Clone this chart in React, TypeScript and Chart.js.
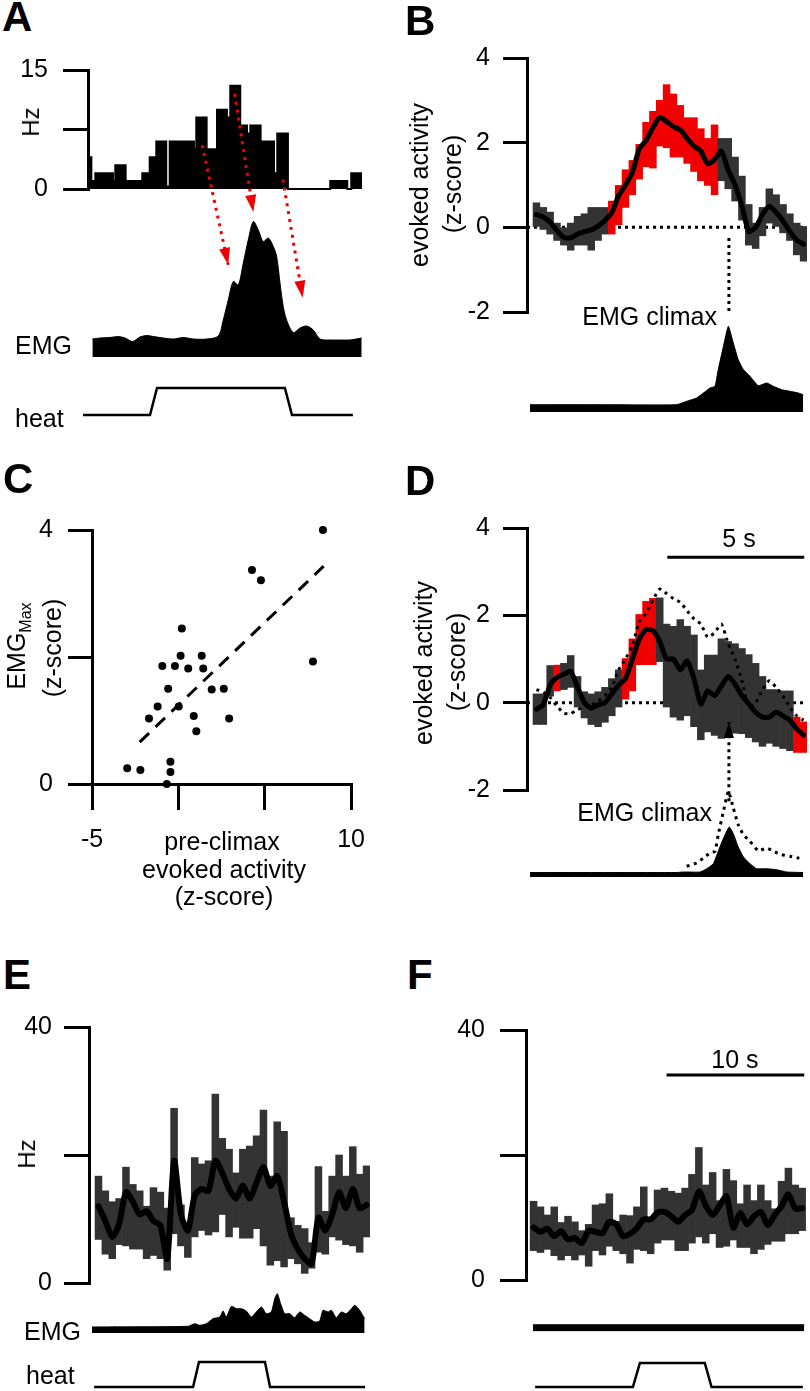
import React, { useEffect, useRef } from "react";
import { Chart, registerables } from "chart.js";

Chart.register(...registerables);

const FONT = "'Liberation Sans', Arial, Helvetica, sans-serif";
Chart.defaults.font.family = FONT;

const RED = "#f00000";
const BAND = "#333333";

// ================= Panel A =================
const histEdges = [0, 0.33, 0.72, 2.46, 2.69, 3.71, 5.35, 6.08, 6.73, 7.71, 8.05, 10.44, 10.67, 11.69, 12.71, 13.69, 14.02, 15.0, 15.67, 15.99, 17.01, 18.33, 18.65, 19.7, 23.87, 25.55, 25.94, 27.0];
const histRates = [4, 1, 2, 1, 3, 1, 2, 4, 6, 0.3, 6, 5, 9, 5, 10, 9, 13, 8, 7, 8, 6, 2, 7, 0, 1, 0, 2];
const histTicks = [0, 7.5, 15];
const histTickLabels = ["0", "", "15"];

const emgATime = [0.43, 1.18, 2.17, 2.99, 3.65, 4.4, 5.12, 5.78, 6.44, 7.42, 8.41, 9.39, 10.38, 11.69, 12.84, 13.33, 13.82, 14.32, 14.81, 15.3, 15.79, 16.29, 16.78, 17.27, 17.76, 18.26, 18.59, 18.92, 19.24, 19.57, 20.23, 20.89, 21.54, 22.2, 22.86, 23.84, 24.83, 25.81, 26.97];
const emgAValue = [18, 19, 19.5, 20.5, 19, 15.5, 20, 21.5, 20.5, 19, 18, 19.5, 18, 18, 21, 37, 57, 75.5, 72, 94, 117, 135.5, 127, 115.5, 119, 110.5, 100.5, 74, 50.5, 37, 24.5, 29, 31, 27, 18, 17, 17, 17, 19];

const heatATime = [-0.49, 6.11, 6.8, 19.4, 20.1, 26.1];
const heatAValue = [0, 0, 1, 1, 0, 0];

const arrowStartT = [11.25, 14.45, 19.21];
const arrowStartHz = [5.52, 12.0, 1.19];
const arrowEndT = [13.82, 16.29, 21.15];
const arrowEndHz = [-9.56, -2.89, -13.7];

// ================= Panels B & D (time in s, 0.25 s bins) =================
const zBins = [0.125, 0.375, 0.625, 0.875, 1.125, 1.375, 1.625, 1.875, 2.125, 2.375, 2.625, 2.875, 3.125, 3.375, 3.625, 3.875, 4.125, 4.375, 4.625, 4.875, 5.125, 5.375, 5.625, 5.875, 6.125, 6.375, 6.625, 6.875, 7.125, 7.375, 7.625, 7.875, 8.125, 8.375, 8.625, 8.875, 9.125, 9.375, 9.625, 9.875];
const zTicks = [-2, 0, 2, 4];
const zTickLabels = ["-2", "0", "2", "4"];
const climaxT = 7.15;

const bMean = [0.3, 0.24, 0.12, -0.08, -0.24, -0.25, -0.16, -0.1, -0.06, 0.03, 0.16, 0.35, 0.75, 1.0, 1.3, 1.85, 2.05, 2.35, 2.6, 2.5, 2.38, 2.3, 2.1, 1.92, 1.8, 1.5, 1.6, 1.8, 1.35, 1.0, 0.5, -0.1, 0.0, 0.3, 0.5, 0.35, 0.15, -0.1, -0.3, -0.4];
const bLow = [0.02, -0.05, -0.16, -0.31, -0.42, -0.54, -0.42, -0.42, -0.54, -0.31, -0.16, -0.16, 0.06, 0.47, 0.77, 1.14, 1.43, 1.4, 1.92, 1.88, 1.66, 1.66, 1.51, 1.32, 1.1, 0.99, 0.77, 1.1, 0.91, 0.62, 0.17, -0.42, -0.5, -0.2, 0.1, 0.02, -0.13, -0.31, -0.65, -0.8];
const bHigh = [0.58, 0.47, 0.36, 0.1, -0.01, 0.1, 0.26, 0.32, 0.47, 0.47, 0.47, 0.62, 0.99, 1.36, 1.58, 1.96, 2.48, 2.74, 3.0, 3.37, 3.15, 2.88, 2.59, 2.59, 2.33, 2.1, 2.42, 2.1, 2.1, 1.66, 1.21, 0.54, 0.1, 0.47, 0.91, 0.77, 0.54, 0.32, 0.1, 0.02];
const bSignificant = [11, 12, 13, 14, 15, 16, 17, 18, 19, 20, 21, 22, 23, 24, 25, 26];
const climaxLineZ = [-0.25, -2.03];

const bEmgTime = [-0.11, 2.45, 5.24, 5.61, 5.97, 6.22, 6.46, 6.64, 6.76, 6.95, 7.13, 7.31, 7.49, 7.68, 7.92, 8.22, 8.53, 8.77, 9.08, 9.38, 9.68, 9.86];
const bEmgValue = [7.3, 7.3, 7.3, 10.7, 14, 19, 24, 25.7, 42.3, 65.7, 85.7, 69, 52.3, 42.3, 35.7, 26.3, 29, 25.7, 22.3, 20.7, 19, 17.3];

const dMean = [-0.15, -0.05, 0.4, 0.58, 0.65, 0.72, 0.35, 0.0, -0.12, -0.05, 0.0, 0.2, 0.4, 0.55, 1.0, 1.45, 1.68, 1.65, 1.4, 1.0, 1.0, 0.75, 0.95, 0.55, -0.03, 0.27, 0.16, 0.38, 0.6, 0.42, 0.16, -0.03, -0.22, -0.33, -0.33, -0.22, -0.3, -0.4, -0.6, -0.74];
const dLow = [-0.5, -0.5, 0.15, 0.27, 0.3, 0.35, -0.1, -0.35, -0.5, -0.55, -0.45, -0.3, -0.1, 0.08, 0.27, 0.87, 0.87, 0.87, 0.94, -0.1, -0.33, -0.4, -0.3, -0.55, -0.85, -0.67, -0.75, -0.82, -0.75, -0.7, -0.71, -0.8, -0.9, -1.0, -0.93, -1.0, -1.05, -1.1, -1.14, -1.14];
const dHigh = [0.2, 0.2, 0.85, 0.86, 0.9, 1.08, 0.6, 0.25, 0.2, 0.25, 0.35, 0.55, 0.75, 1.01, 1.46, 2.02, 2.32, 2.39, 2.4, 1.8, 1.75, 1.9, 1.75, 1.55, 0.75, 1.09, 1.09, 1.46, 1.4, 1.35, 1.24, 1.1, 0.9, 0.6, 0.3, 0.3, 0.27, 0.27, -0.33, -0.44];
const dSignificant = [3, 13, 14, 15, 16, 17, 38, 39];
const dArrowZ = [-2.26, -0.44];
const dScaleBarT = [4.9, 9.9];
const dScaleBarZ = 3.33;

const dEmgTime = [-0.11, 5.24, 5.49, 6.09, 6.34, 6.58, 6.82, 7.0, 7.16, 7.31, 7.49, 7.68, 7.92, 8.16, 8.53, 8.89, 9.26, 9.86];
const dEmgValue = [4.5, 4.5, 5, 5, 8.3, 13.3, 30, 41.7, 50, 43.3, 30, 20, 13.3, 8.3, 8.3, 7.3, 5, 4.5];

// ================= Panel C =================
const cPreClimax = [8.37, 4.26, 4.78, 0.2, 0.13, 1.35, -0.93, -0.2, 0.57, 1.44, -0.59, 1.93, 2.63, -1.2, 0.02, -1.7, 0.89, 2.94, 1.04, 7.79, -2.96, -2.2, -0.46, -0.46, -0.67];
const cEmgMax = [4.0, 3.37, 3.21, 2.45, 2.02, 2.02, 1.86, 1.86, 1.82, 1.82, 1.5, 1.49, 1.5, 1.22, 1.22, 1.03, 1.07, 1.03, 0.83, 1.93, 0.25, 0.22, 0.35, 0.19, 0.0];
const cFitX = [-2.24, 8.41];
const cFitY = [0.66, 3.43];
const cXTicks = [-5, 0, 5, 10];
const cXTickLabels = ["-5", "", "", "10"];
const cYTicks = [0, 2, 4];
const cYTickLabels = ["0", "", "4"];

// ================= Panels E & F (time in s, 0.5 s bins) =================
const hzBins = [0.25, 0.75, 1.25, 1.75, 2.25, 2.75, 3.25, 3.75, 4.25, 4.75, 5.25, 5.75, 6.25, 6.75, 7.25, 7.75, 8.25, 8.75, 9.25, 9.75, 10.25, 10.75, 11.25, 11.75, 12.25, 12.75, 13.25, 13.75, 14.25, 14.75, 15.25, 15.75, 16.25, 16.75, 17.25, 17.75, 18.25, 18.75, 19.25, 19.75];
const hzTicks = [0, 20, 40];
const hzTickLabels = ["0", "", "40"];

const eMean = [12.0, 9.7, 7.2, 9.2, 14.2, 12.7, 10.7, 11.2, 9.7, 9.0, 3.8, 19.1, 10.7, 8.2, 13.7, 14.7, 14.4, 19.1, 17.2, 14.7, 13.2, 15.2, 13.2, 15.7, 18.1, 15.2, 16.7, 12.7, 7.7, 5.3, 3.8, 3.0, 10.2, 8.2, 10.7, 14.2, 11.7, 14.7, 11.7, 12.2];
const eLow = [6.8, 4.5, 3.8, 6.0, 5.8, 5.3, 5.3, 3.8, 4.3, 3.8, 2.0, 7.7, 5.8, 4.0, 7.2, 8.2, 7.5, 8.0, 10.7, 7.2, 8.7, 7.0, 7.0, 8.5, 5.8, 2.8, 3.5, 2.5, 3.8, 3.0, 1.5, 2.3, 4.8, 4.5, 7.2, 6.7, 6.0, 5.8, 4.8, 7.2];
const eHigh = [16.7, 14.4, 12.7, 13.2, 18.1, 15.4, 14.4, 12.0, 14.9, 14.2, 11.7, 27.3, 12.2, 9.0, 19.6, 18.6, 19.1, 29.5, 22.6, 20.9, 17.2, 20.9, 21.4, 23.0, 27.0, 16.7, 25.2, 23.7, 10.2, 9.0, 8.5, 6.3, 18.2, 11.2, 16.7, 20.0, 16.7, 21.3, 17.0, 18.3];

const eEmgTime = [-0.22, 6.76, 7.25, 7.61, 8.1, 8.58, 9.07, 9.31, 9.55, 9.92, 10.28, 10.64, 11.0, 11.37, 11.73, 12.1, 12.46, 12.82, 13.07, 13.26, 13.5, 13.79, 14.16, 14.52, 14.89, 15.25, 15.61, 15.98, 16.34, 16.58, 16.95, 17.19, 17.55, 17.91, 18.28, 18.65, 18.89, 19.25, 19.61];
const eEmgValue = [6, 6.7, 9.3, 7.7, 9.3, 14.3, 16, 22, 16, 26.7, 24.3, 24.3, 22, 16, 21, 26, 19.3, 21, 34.3, 39.3, 29.3, 19.3, 19.3, 15.3, 21, 17.7, 14.3, 11, 12, 22.7, 21, 22.7, 15.3, 21, 19.3, 24.3, 27.7, 22.7, 14.3];
const heatETime = [-0.07, 7.13, 7.56, 12.36, 12.73, 19.64];
const heatEValue = [0, 0, 1, 1, 0, 0];

const fMean = [8.4, 7.7, 8.2, 7.0, 7.8, 6.5, 6.7, 5.9, 7.9, 7.7, 7.5, 9.3, 8.9, 7.0, 7.4, 8.3, 9.7, 9.7, 10.8, 10.9, 10.2, 9.3, 10.4, 11.2, 14.2, 11.9, 10.4, 11.9, 13.4, 8.4, 10.7, 8.9, 10.2, 10.9, 8.8, 10.4, 11.8, 13.7, 11.4, 11.5];
const fHigh = [12.6, 11.7, 10.4, 11.7, 9.2, 10.2, 9.3, 7.9, 8.9, 12.0, 12.2, 13.8, 9.4, 10.4, 10.3, 11.7, 14.9, 9.8, 14.4, 14.7, 14.2, 13.9, 14.7, 16.9, 21.2, 15.2, 17.2, 12.7, 17.7, 15.9, 12.2, 15.2, 12.7, 15.2, 12.7, 11.4, 15.8, 17.9, 15.2, 14.7];
const fLow = [4.7, 4.4, 4.9, 3.9, 3.2, 3.9, 3.2, 4.0, 2.2, 4.7, 4.0, 5.4, 4.7, 4.2, 2.7, 4.9, 4.7, 4.2, 5.9, 6.4, 6.4, 4.7, 4.7, 5.9, 6.9, 5.9, 7.4, 5.2, 5.4, 6.4, 5.2, 5.2, 4.2, 4.9, 5.7, 6.2, 6.2, 7.4, 7.4, 7.9];
const fEmgTime = [0.2, 19.9];
const fEmgValue = [6.7, 6.7];
const heatFTime = [0.36, 7.46, 7.97, 12.68, 13.17, 19.8];
const heatFValue = [0, 0, 1, 1, 0, 0];
const fScaleBarT = [9.9, 19.9];
const fScaleBarHz = 32.8;

// ================= helpers =================
type Box = { x: number; y: number; w: number; h: number };
type Area = { x0: number; y0: number; x1: number; y1: number };

const pts = (xs: number[], ys: number[]) => xs.map((x, i) => ({ x, y: ys[i] }));

function layoutPadding(box: Box, area: Area, yW = 0, xH = 0) {
  return {
    left: area.x0 - box.x - yW,
    top: area.y0 - box.y,
    right: box.x + box.w - area.x1,
    bottom: box.y + box.h - area.y1 - xH,
  };
}

function hiddenAxis(min: number, max: number) {
  return {
    type: "linear",
    display: false,
    min,
    max,
    offset: false,
    grid: { offset: false },
    afterBuildTicks: (s: any) => {
      s.ticks = [{ value: min }, { value: max }];
    },
  };
}

function tickAxis(position: "left" | "bottom", min: number, max: number, vals: number[], labels: string[], size: number, tickLen: number, pad: number) {
  const horizontal = position === "bottom";
  return {
    type: "linear",
    position,
    min,
    max,
    offset: false,
    afterBuildTicks: (s: any) => {
      s.ticks = vals.map((v) => ({ value: v }));
    },
    afterFit: (s: any) => {
      if (horizontal) s.height = size;
      else s.width = size;
    },
    ticks: {
      autoSkip: false,
      maxRotation: 0,
      minRotation: 0,
      padding: pad,
      color: "#000",
      font: { family: FONT, size: 25 },
      callback: (v: any) => {
        const i = vals.indexOf(Number(v));
        return i >= 0 ? labels[i] : "";
      },
    },
    grid: { drawOnChartArea: false, drawTicks: true, tickLength: tickLen, tickWidth: 3, tickColor: "#000", color: "#000", lineWidth: 3, offset: false },
    border: { display: true, color: "#000", width: 3 },
  };
}

function makeOptions(box: Box, area: Area, scales: any, yW = 0, xH = 0) {
  return {
    responsive: false,
    maintainAspectRatio: false,
    animation: false,
    devicePixelRatio: 1,
    events: [],
    layout: { autoPadding: false, padding: layoutPadding(box, area, yW, xH) },
    plugins: { legend: { display: false }, tooltip: { enabled: false }, title: { display: false } },
    elements: { point: { radius: 0, hoverRadius: 0 } },
    scales,
  };
}

const lineDS = (data: any[], extra: any = {}) => ({
  type: "line",
  data,
  borderColor: "#000",
  borderWidth: 3,
  pointRadius: 0,
  fill: false,
  clip: false,
  tension: 0,
  ...extra,
});

const bandDS = (bins: number[], low: number[], high: number[], sig: number[], order = 2) => ({
  type: "bar",
  data: bins.map((t, i) => ({ x: t, y: [low[i], high[i]] })),
  backgroundColor: bins.map((_, i) => (sig.includes(i) ? RED : BAND)),
  borderWidth: 0,
  barPercentage: 1,
  categoryPercentage: 1,
  grouped: false,
  order,
});

const arrowPlugin = {
  id: "arrowHeads",
  afterDatasetsDraw(chart: any) {
    const ctx = chart.ctx;
    chart.data.datasets.forEach((ds: any, i: number) => {
      if (!ds.arrowHead) return;
      const meta = chart.getDatasetMeta(i);
      const p = meta.data;
      if (!p || p.length < 2) return;
      const a = p[p.length - 2];
      const b = p[p.length - 1];
      const ang = Math.atan2(b.y - a.y, b.x - a.x);
      const { length, halfWidth, color } = ds.arrowHead;
      ctx.save();
      ctx.translate(b.x, b.y);
      ctx.rotate(ang);
      ctx.beginPath();
      ctx.moveTo(0, 0);
      ctx.lineTo(-length, -halfWidth);
      ctx.lineTo(-length, halfWidth);
      ctx.closePath();
      ctx.fillStyle = color;
      ctx.fill();
      ctx.restore();
    });
  },
};

type Spec = { box: Box; build: () => any };

function stepPoints(edges: number[], rates: number[]) {
  const out = rates.map((r, i) => ({ x: edges[i], y: r }));
  out.push({ x: edges[edges.length - 1], y: rates[rates.length - 1] });
  return out;
}

// ================= chart specs =================
const specs: Spec[] = [];

// ---- A histogram (+ red arrows)
{
  const box = { x: 0, y: 40, w: 380, h: 290 };
  const area = { x0: 88, y0: 54, x1: 362, y1: 189 };
  specs.push({
    box,
    build: () => ({
      type: "line",
      data: {
        datasets: [
          ...arrowStartT.map((_, k) =>
            lineDS(
              [
                { x: arrowStartT[k], y: arrowStartHz[k] },
                { x: arrowEndT[k], y: arrowEndHz[k] },
              ],
              { borderColor: RED, borderWidth: 3, borderDash: [3, 5], order: 0, arrowHead: { length: 17, halfWidth: 5.5, color: RED } }
            )
          ),
          lineDS(stepPoints(histEdges, histRates), { stepped: true, fill: "origin", backgroundColor: "#000", borderWidth: 2, order: 1 }),
        ],
      },
      options: makeOptions(box, area, { x: hiddenAxis(0, 27), y: tickAxis("left", 0, 15, histTicks, histTickLabels, 88, 25, 15) }, 88),
      plugins: [arrowPlugin],
    }),
  });
}
// ---- A EMG
{
  const box = { x: 0, y: 200, w: 380, h: 170 };
  const area = { x0: 88, y0: 212, x1: 362, y1: 357 };
  specs.push({
    box,
    build: () => ({
      type: "line",
      data: { datasets: [lineDS(pts(emgATime, emgAValue), { fill: "origin", backgroundColor: "#000", borderWidth: 1, tension: 0.3 })] },
      options: makeOptions(box, area, { x: hiddenAxis(0, 27), y: hiddenAxis(0, 145) }),
    }),
  });
}
// ---- A heat
{
  const box = { x: 0, y: 375, w: 380, h: 50 };
  const area = { x0: 88, y0: 388, x1: 362, y1: 415 };
  specs.push({
    box,
    build: () => ({
      type: "line",
      data: { datasets: [lineDS(pts(heatATime, heatAValue), { borderWidth: 2.5 })] },
      options: makeOptions(box, area, { x: hiddenAxis(0, 27), y: hiddenAxis(0, 1) }),
    }),
  });
}

// ---- B main
{
  const box = { x: 400, y: 30, w: 410, h: 310 };
  const area = { x0: 527, y0: 54, x1: 807, y1: 323 };
  specs.push({
    box,
    build: () => ({
      type: "line",
      data: {
        datasets: [
          lineDS(pts(zBins, bMean), { borderWidth: 5, tension: 0.2, borderJoinStyle: "round", borderCapStyle: "round", order: 0 }),
          lineDS(
            [
              { x: climaxT, y: climaxLineZ[0] },
              { x: climaxT, y: climaxLineZ[1] },
            ],
            { borderDash: [3, 4], order: 1 }
          ),
          bandDS(zBins, bLow, bHigh, bSignificant, 2),
          lineDS(
            [
              { x: -0.22, y: 0 },
              { x: 10, y: 0 },
            ],
            { borderDash: [3, 4], order: 3 }
          ),
        ],
      },
      options: makeOptions(box, area, { x: hiddenAxis(-0.22, 10), y: tickAxis("left", -2, 4, zTicks, zTickLabels, 127, 24, 13) }, 127),
    }),
  });
}
// ---- B EMG
{
  const box = { x: 400, y: 300, w: 410, h: 125 };
  const area = { x0: 527, y0: 312, x1: 807, y1: 412 };
  specs.push({
    box,
    build: () => ({
      type: "line",
      data: { datasets: [lineDS(pts(bEmgTime, bEmgValue), { fill: "origin", backgroundColor: "#000", borderWidth: 1, tension: 0.15 })] },
      options: makeOptions(box, area, { x: hiddenAxis(-0.22, 10), y: hiddenAxis(0, 100) }),
    }),
  });
}

// ---- C scatter
{
  const box = { x: 0, y: 500, w: 380, h: 380 };
  const area = { x0: 92, y0: 517, x1: 362, y1: 784 };
  specs.push({
    box,
    build: () => ({
      type: "line",
      data: {
        datasets: [
          lineDS(pts(cPreClimax, cEmgMax), { showLine: false, pointRadius: 4, pointBackgroundColor: "#000", pointBorderWidth: 0, order: 0 }),
          lineDS(pts(cFitX, cFitY), { borderDash: [13, 9], borderWidth: 3, order: 1 }),
        ],
      },
      options: makeOptions(
        box,
        area,
        {
          x: tickAxis("bottom", -5, 10, cXTicks, cXTickLabels, 84, 26, 15),
          y: tickAxis("left", 0, 4, cYTicks, cYTickLabels, 92, 24, 15),
        },
        92,
        84
      ),
    }),
  });
}

// ---- D main
{
  const box = { x: 400, y: 500, w: 410, h: 320 };
  const area = { x0: 527, y0: 522, x1: 807, y1: 790 };
  specs.push({
    box,
    build: () => ({
      type: "line",
      data: {
        datasets: [
          lineDS(pts(zBins, dMean), { borderWidth: 5, tension: 0.2, borderJoinStyle: "round", borderCapStyle: "round", order: 0 }),
          lineDS(
            [
              { x: climaxT, y: dArrowZ[0] },
              { x: climaxT, y: dArrowZ[1] },
            ],
            { borderDash: [3, 4], order: 1, arrowHead: { length: 16, halfWidth: 5, color: "#000" } }
          ),
          lineDS(
            [
              { x: dScaleBarT[0], y: dScaleBarZ },
              { x: dScaleBarT[1], y: dScaleBarZ },
            ],
            { borderWidth: 3, order: 1 }
          ),
          lineDS(pts(zBins, bMean), { borderDash: [3, 4.5], borderWidth: 3, tension: 0.2, order: 1 }),
          bandDS(zBins, dLow, dHigh, dSignificant, 2),
          lineDS(
            [
              { x: -0.22, y: 0 },
              { x: 10, y: 0 },
            ],
            { borderDash: [3, 4], order: 3 }
          ),
        ],
      },
      options: makeOptions(box, area, { x: hiddenAxis(-0.22, 10), y: tickAxis("left", -2, 4, zTicks, zTickLabels, 127, 24, 13) }, 127),
      plugins: [arrowPlugin],
    }),
  });
}
// ---- D EMG
{
  const box = { x: 400, y: 770, w: 410, h: 120 };
  const area = { x0: 527, y0: 777, x1: 807, y1: 877 };
  const overlayStart = bEmgTime.findIndex((t) => t >= 5.5);
  specs.push({
    box,
    build: () => ({
      type: "line",
      data: {
        datasets: [
          lineDS(pts(bEmgTime.slice(overlayStart), bEmgValue.slice(overlayStart)), { borderDash: [3, 4.5], borderWidth: 3, tension: 0.15, order: 0 }),
          lineDS(pts(dEmgTime, dEmgValue), { fill: "origin", backgroundColor: "#000", borderWidth: 1, tension: 0.15, order: 1 }),
        ],
      },
      options: makeOptions(box, area, { x: hiddenAxis(-0.22, 10), y: hiddenAxis(0, 100) }),
    }),
  });
}

// ---- E main
{
  const box = { x: 0, y: 1000, w: 380, h: 310 };
  const area = { x0: 89, y0: 1023, x1: 370, y1: 1292 };
  specs.push({
    box,
    build: () => ({
      type: "line",
      data: {
        datasets: [
          lineDS(pts(hzBins, eMean), { borderWidth: 6, tension: 0.25, borderJoinStyle: "round", borderCapStyle: "round", order: 0 }),
          bandDS(hzBins, eLow, eHigh, [], 2),
        ],
      },
      options: makeOptions(box, area, { x: hiddenAxis(-0.44, 20), y: tickAxis("left", 0, 40, hzTicks, hzTickLabels, 89, 25, 12) }, 89),
    }),
  });
}
// ---- E EMG
{
  const box = { x: 0, y: 1275, w: 380, h: 65 };
  const area = { x0: 89, y0: 1283, x1: 370, y1: 1333 };
  specs.push({
    box,
    build: () => ({
      type: "line",
      data: { datasets: [lineDS(pts(eEmgTime, eEmgValue), { fill: "origin", backgroundColor: "#000", borderWidth: 1, tension: 0.2 })] },
      options: makeOptions(box, area, { x: hiddenAxis(-0.44, 20), y: hiddenAxis(0, 50) }),
    }),
  });
}
// ---- E heat
{
  const box = { x: 0, y: 1350, w: 380, h: 41 };
  const area = { x0: 89, y0: 1362, x1: 370, y1: 1387 };
  specs.push({
    box,
    build: () => ({
      type: "line",
      data: { datasets: [lineDS(pts(heatETime, heatEValue), { borderWidth: 2.5 })] },
      options: makeOptions(box, area, { x: hiddenAxis(-0.44, 20), y: hiddenAxis(0, 1) }),
    }),
  });
}

// ---- F main
{
  const box = { x: 400, y: 1000, w: 410, h: 310 };
  const area = { x0: 526, y0: 1026, x1: 807, y1: 1293 };
  specs.push({
    box,
    build: () => ({
      type: "line",
      data: {
        datasets: [
          lineDS(pts(hzBins, fMean), { borderWidth: 6, tension: 0.25, borderJoinStyle: "round", borderCapStyle: "round", order: 0 }),
          lineDS(
            [
              { x: fScaleBarT[0], y: fScaleBarHz },
              { x: fScaleBarT[1], y: fScaleBarHz },
            ],
            { borderWidth: 3, order: 1 }
          ),
          bandDS(hzBins, fLow, fHigh, [], 2),
        ],
      },
      options: makeOptions(box, area, { x: hiddenAxis(-0.3, 20.1), y: tickAxis("left", 0, 40, hzTicks, hzTickLabels, 126, 26, 15) }, 126),
    }),
  });
}
// ---- F EMG
{
  const box = { x: 400, y: 1300, w: 410, h: 40 };
  const area = { x0: 526, y0: 1311.5, x1: 807, y1: 1331.5 };
  specs.push({
    box,
    build: () => ({
      type: "line",
      data: { datasets: [lineDS(pts(fEmgTime, fEmgValue), { fill: "origin", backgroundColor: "#000", borderWidth: 1 })] },
      options: makeOptions(box, area, { x: hiddenAxis(-0.3, 20.1), y: hiddenAxis(0, 20) }),
    }),
  });
}
// ---- F heat
{
  const box = { x: 400, y: 1350, w: 410, h: 41 };
  const area = { x0: 526, y0: 1363, x1: 807, y1: 1387 };
  specs.push({
    box,
    build: () => ({
      type: "line",
      data: { datasets: [lineDS(pts(heatFTime, heatFValue), { borderWidth: 2.5 })] },
      options: makeOptions(box, area, { x: hiddenAxis(-0.3, 20.1), y: hiddenAxis(0, 1) }),
    }),
  });
}

// ================= components =================
function ChartCanvas({ spec }: { spec: Spec }) {
  const ref = useRef<HTMLCanvasElement | null>(null);
  useEffect(() => {
    if (!ref.current) return;
    const chart = new Chart(ref.current, spec.build());
    return () => chart.destroy();
  }, [spec]);
  const { box } = spec;
  return (
    <canvas
      ref={ref}
      width={box.w}
      height={box.h}
      style={{ position: "absolute", left: box.x, top: box.y, width: box.w, height: box.h }}
    />
  );
}

type LabelProps = {
  x: number;
  y: number;
  size?: number;
  bold?: boolean;
  rotate?: boolean;
  align?: "left" | "center" | "right";
  children: React.ReactNode;
};

function Label({ x, y, size = 25, bold = false, rotate = false, align = "center", children }: LabelProps) {
  const tx = align === "left" ? "0%" : align === "right" ? "-100%" : "-50%";
  return (
    <div
      style={{
        position: "absolute",
        left: x,
        top: y,
        transform: `translate(${tx}, -50%)${rotate ? " rotate(-90deg)" : ""}`,
        fontSize: size,
        fontWeight: bold ? 700 : 400,
        lineHeight: 1,
        whiteSpace: "nowrap",
        fontFamily: FONT,
        color: "#000",
      }}
    >
      {children}
    </div>
  );
}

export default function App() {
  return (
    <div
      style={{
        position: "absolute",
        left: 0,
        top: 0,
        width: 810,
        height: 1391,
        background: "#fff",
        overflow: "hidden",
        fontFamily: FONT,
      }}
    >
      {specs.map((s, i) => (
        <ChartCanvas key={i} spec={s} />
      ))}

      {/* panel letters */}
      <Label x={2} y={17} size={42} bold align="left">A</Label>
      <Label x={405} y={21} size={42} bold align="left">B</Label>
      <Label x={3} y={479} size={42} bold align="left">C</Label>
      <Label x={405} y={481} size={42} bold align="left">D</Label>
      <Label x={3} y={975} size={42} bold align="left">E</Label>
      <Label x={407} y={975} size={42} bold align="left">F</Label>

      {/* A */}
      <Label x={31} y={122} size={24} rotate>Hz</Label>
      <Label x={15} y={345} align="left">EMG</Label>
      <Label x={15} y={418} align="left">heat</Label>

      {/* B */}
      <Label x={419} y={185} rotate>evoked activity</Label>
      <Label x={452} y={184} rotate>(z-score)</Label>
      <Label x={717} y={316} align="right">EMG climax</Label>

      {/* C */}
      <Label x={16} y={646} rotate>
        <span>
          EMG<span style={{ fontSize: 16, position: "relative", top: 6 }}>Max</span>
        </span>
      </Label>
      <Label x={52} y={648} rotate>(z-score)</Label>
      <Label x={222} y={841}>pre-climax</Label>
      <Label x={224} y={869}>evoked activity</Label>
      <Label x={224} y={896}>(z-score)</Label>

      {/* D */}
      <Label x={423} y={663} rotate>evoked activity</Label>
      <Label x={456} y={662} rotate>(z-score)</Label>
      <Label x={712} y={812} align="right">EMG climax</Label>
      <Label x={739} y={538}>5 s</Label>

      {/* E */}
      <Label x={27} y={1154} size={24} rotate>Hz</Label>
      <Label x={24} y={1331} align="left">EMG</Label>
      <Label x={26} y={1375} align="left">heat</Label>

      {/* F */}
      <Label x={735} y={1059}>10 s</Label>
    </div>
  );
}
